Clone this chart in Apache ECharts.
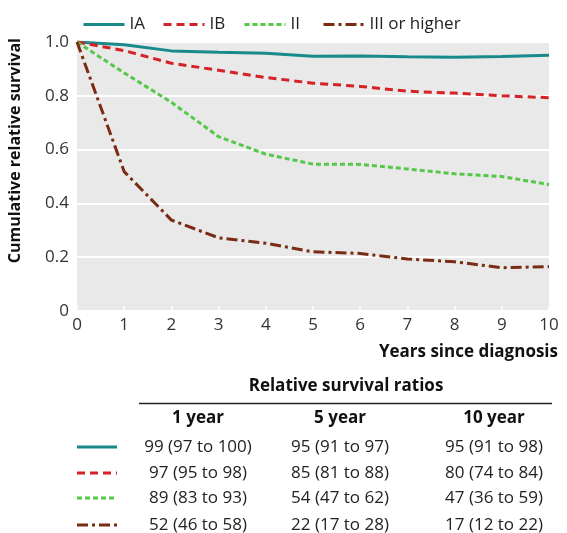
<!DOCTYPE html>
<html>
<head>
<meta charset="utf-8">
<script src="https://cdn.jsdelivr.net/npm/echarts@6/dist/echarts.min.js"></script>
<style>html,body{margin:0;padding:0;background:#fff;}#c{width:567px;height:533px;}</style>
</head>
<body>
<div id="c"></div>
<script>
var years = [0,1,2,3,4,5,6,7,8,9,10];
var seriesNames = ['IA','IB','II','III or higher'];
var stageIA  = [1.0,0.990,0.967,0.962,0.958,0.947,0.948,0.945,0.943,0.946,0.951];
var stageIB  = [1.0,0.968,0.921,0.895,0.868,0.847,0.835,0.817,0.810,0.800,0.793];
var stageII  = [1.0,0.885,0.776,0.648,0.583,0.546,0.545,0.528,0.510,0.500,0.470];
var stageIII = [1.0,0.518,0.338,0.272,0.252,0.220,0.214,0.193,0.183,0.161,0.165];
var yTickLabels = ['0','0.2','0.4','0.6','0.8','1.0'];
var tableTitle = 'Relative survival ratios';
var tableHeaders = ['1 year','5 year','10 year'];
var tableRows = [
  ['99 (97 to 100)','95 (91 to 97)','95 (91 to 98)'],
  ['97 (95 to 98)','85 (81 to 88)','80 (74 to 84)'],
  ['89 (83 to 93)','54 (47 to 62)','47 (36 to 59)'],
  ['52 (46 to 58)','22 (17 to 28)','17 (12 to 22)']
];
var yAxisTitle = 'Cumulative relative survival';
var xAxisTitle = 'Years since diagnosis';

var FONT = '"Open Sans", sans-serif';
var colors = ['#188a8a','#d42226','#55c84a','#7a2c12'];
var dashes = ['solid',[8,5],[5,3],[11,4,3,4]];
var allData = [stageIA, stageIB, stageII, stageIII];

var chart = echarts.init(document.getElementById('c'), null, {renderer:'canvas'});

var legendLefts = [77, 157, 238, 317];
var legends = seriesNames.map(function(n,i){
  return {
    data:[n], left: legendLefts[i], top: 11, itemWidth: 41, itemHeight: 18, itemGap: 0,
    itemStyle:{opacity:0},
    lineStyle:{width:3},
    textStyle:{fontFamily:FONT, fontSize:17, color:'#222'}, selectedMode:false
  };
});

var series = seriesNames.map(function(n,i){
  return {
    name:n, type:'line', data: allData[i].map(function(v,j){return [years[j], v];}),
    symbol:'none', smooth:false, color: colors[i],
    lineStyle:{color:colors[i], width:3, type:dashes[i]}
  };
});

var graphics = [];
graphics.push({type:'text', left:7, top:38, rotation:Math.PI/2, originX:0, originY:0,
  style:{text:yAxisTitle, font:'bold 16px '+FONT, fill:'#111', x:0, y:0}});
graphics.push({type:'text', right:9, top:344,
  style:{text:xAxisTitle, font:'bold 17px '+FONT, fill:'#111'}});
// table
var colX = [198, 340, 494];
var rowY = [447, 473, 498, 525];
graphics.push({type:'text', x:346, y:386, style:{text:tableTitle, font:'bold 17px '+FONT, fill:'#111', align:'center', verticalAlign:'middle'}});
graphics.push({type:'line', shape:{x1:139, y1:403.5, x2:552, y2:403.5}, style:{stroke:'#222', lineWidth:1.5}});
tableHeaders.forEach(function(h,i){
  graphics.push({type:'text', x:colX[i], y:418, style:{text:h, font:'bold 17px '+FONT, fill:'#111', align:'center', verticalAlign:'middle'}});
});
tableRows.forEach(function(row,r){
  graphics.push({type:'line', shape:{x1:77, y1:rowY[r], x2:117, y2:rowY[r]},
    style:{stroke:colors[r], lineWidth:3, lineDash: dashes[r]==='solid'?null:dashes[r]}});
  row.forEach(function(cell,c){
    graphics.push({type:'text', x:colX[c], y:rowY[r], style:{text:cell, font:'17px '+FONT, fill:'#222', align:'center', verticalAlign:'middle'}});
  });
});

chart.setOption({
  animation:false,
  backgroundColor:'#fff',
  legend: legends,
  grid:{left:77, right:18, top:42, bottom:222, show:true, backgroundColor:'#e9e9e9', borderWidth:0, containLabel:false},
  xAxis:{type:'value', min:0, max:10, interval:1,
    axisLine:{show:false},
    axisTick:{show:true, inside:true, length:5, lineStyle:{color:'#fff', width:1.5}},
    splitLine:{show:false},
    axisLabel:{fontFamily:FONT, fontSize:17, color:'#333', margin:6}
  },
  yAxis:{type:'value', min:0, max:1, interval:0.2,
    axisLine:{show:false}, axisTick:{show:false},
    splitLine:{show:true, lineStyle:{color:'#fff', width:2}},
    axisLabel:{fontFamily:FONT, fontSize:17, color:'#333', margin:8,
      formatter:function(v){ return yTickLabels[Math.round(v/0.2)]; }}
  },
  series: series,
  graphic: graphics
});
</script>
</body>
</html>
